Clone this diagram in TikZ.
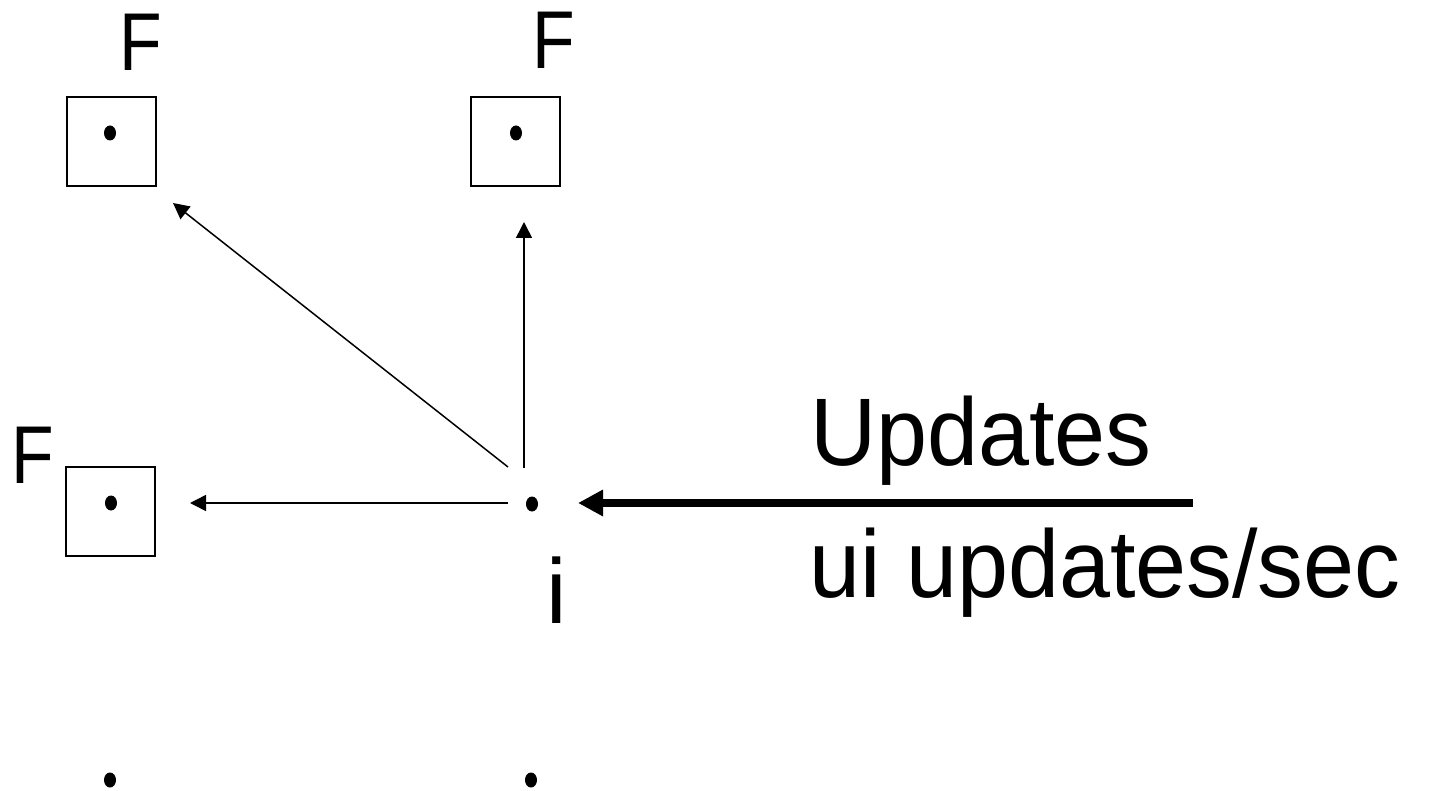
\documentclass[tikz,border=0pt]{standalone}
\usepackage{fontspec}
\setmainfont{Liberation Sans}
\usetikzlibrary{arrows.meta,shapes.geometric}
\begin{document}
\begin{tikzpicture}[x=0.5pt,y=-0.5pt,
  boxst/.style={draw,line width=1pt,minimum width=44.5pt,minimum height=44.5pt,inner sep=0pt},
  dotst/.style={ellipse,fill,inner sep=0pt,minimum width=6pt,minimum height=7.5pt},
  thinarr/.style={line width=0.75pt,-{Triangle[length=8pt,width=8pt]}},
  thickarr/.style={line width=4pt,-{Triangle[length=12.5pt,width=12.5pt]}},
  flab/.style={font=\fontsize{41}{41}\selectfont,anchor=base west,inner sep=0pt,xscale=0.85},
  big/.style={font=\fontsize{48}{48}\selectfont,anchor=base west,inner sep=0pt,xscale=0.955}]
\useasboundingbox (0,0) rectangle (1430,791);
% boxes
\node[boxst] (b1) at (111,141.5) {};
\node[boxst] (b2) at (515.5,141.5) {};
\node[boxst] (b3) at (110.5,511.5) {};
% dots
\node[dotst] (d1) at (110,133) {};
\node[dotst] (d2) at (516,133) {};
\node[dotst] (d3) at (111,503) {};
\node[dotst] (di) at (532,504) {};
\node[dotst] (e1) at (110,780) {};
\node[dotst] (e2) at (531,780) {};
% labels
\node[flab] (f1) at (119,71) {F};
\node[flab] (f2) at (532,69) {F};
\node[flab] (f3) at (11,483) {F};
\node[font=\fontsize{46}{46}\selectfont,anchor=base,inner sep=0pt] (li) at (556.5,623) {i};
\node[big] (upd) at (810,465) {Updates};
\node[big] (rate) at (809,597) {ui updates/sec};
% connector ends
\coordinate (s1) at (508,467);
\coordinate (t1) at (173,203);
\coordinate (s2) at (524,468);
\coordinate (t2) at (524,222);
\coordinate (s3) at (508,503);
\coordinate (t3) at (190,503);
\coordinate (s4) at (1193,503);
\coordinate (t4) at (578,503);
\draw[thinarr] (s1) -- (t1);
\draw[thinarr] (s2) -- (t2);
\draw[thinarr] (s3) -- (t3);
\draw[thickarr] (s4) -- (t4);
\end{tikzpicture}
\end{document}
